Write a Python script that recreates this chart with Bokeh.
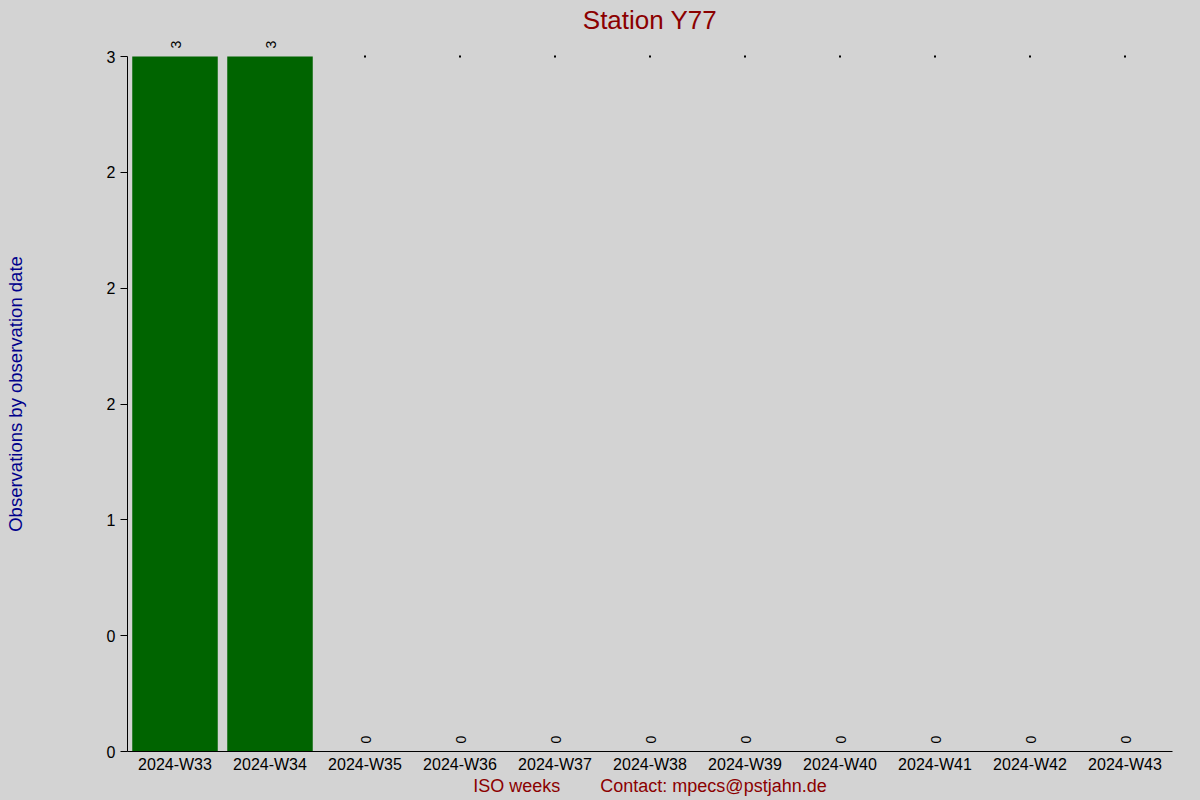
import math
from bokeh.plotting import figure
from bokeh.models import FactorRange, Range1d, FixedTicker, ColumnDataSource
from bokeh.embed import file_html
from bokeh.resources import INLINE
from bokeh.core.properties import value

# ---- data ----
weeks = ["2024-W33", "2024-W34", "2024-W35", "2024-W36", "2024-W37", "2024-W38",
         "2024-W39", "2024-W40", "2024-W41", "2024-W42", "2024-W43"]
counts = [3, 3, 0, 0, 0, 0, 0, 0, 0, 0, 0]
y_ticks = [0, 0.5, 1, 1.5, 2, 2.5, 3]
y_tick_labels = ["0", "0", "1", "2", "2", "2", "3"]
y_min = 0
y_max = 3
title_text = "Station Y77"
x_label = "ISO weeks" + "\u00a0" * 8 + "Contact: mpecs@pstjahn.de"
y_label = "Observations by observation date"

FONT = "Liberation Sans"
BG = "#d3d3d3"

# layout: axis spans 695 px for the data range, frame gets 20 px headroom for bar labels
AXIS_PX = 695
HEAD_PX = 20
y_end = y_max + (y_max - y_min) * HEAD_PX / AXIS_PX

src = ColumnDataSource(dict(week=weeks, count=counts, label=[str(c) for c in counts]))
zero_weeks = [w for w, c in zip(weeks, counts) if c == 0]
dots = ColumnDataSource(dict(week=zero_weeks, top=[y_max] * len(zero_weeks)))

p = figure(width=1200, height=800, output_backend="svg", toolbar_location=None,
           x_range=FactorRange(factors=weeks, range_padding=0),
           y_range=Range1d(y_min, y_end),
           min_border_left=127, min_border_right=28, min_border_top=36, min_border_bottom=49)
p.styles = {"background-color": BG}

p.background_fill_color = BG
p.border_fill_color = BG
p.outline_line_color = None
p.xgrid.grid_line_color = None
p.ygrid.grid_line_color = None

p.title.text = title_text
p.title.align = "center"
p.title.text_font = FONT
p.title.text_font_size = "26px"
p.title.text_font_style = "normal"
p.title.text_color = "#8b0000"
p.title.standoff = 4

p.vbar(x="week", top="count", width=0.9, source=src, fill_color="#006400", line_color=None)
p.text(x="week", y="count", text="label", source=src, angle=math.pi / 2,
       text_align="left", text_baseline="middle", y_offset=-8, x_offset=1,
       text_font=value(FONT), text_font_size="14px", text_color="black")
p.scatter(x="week", y="top", source=dots, marker="square", size=2,
          fill_color="black", line_color=None)

# y axis
ya = p.yaxis[0]
ya.ticker = FixedTicker(ticks=y_ticks)
ya.bounds = (y_min, y_max)
ya.major_label_overrides = {t: l for t, l in zip(y_ticks, y_tick_labels)}
ya.minor_tick_line_color = None
ya.major_tick_out = 7
ya.major_tick_in = 0
ya.major_label_standoff = 5
ya.major_label_text_font = FONT
ya.major_label_text_font_size = "16px"
ya.major_label_text_color = "black"
ya.axis_label = y_label
ya.axis_label_text_font = FONT
ya.axis_label_text_font_size = "18.5px"
ya.axis_label_text_font_style = "normal"
ya.axis_label_text_color = "#00008b"
ya.axis_label_standoff = 78
ya.axis_line_color = "black"

# x axis
xa = p.xaxis[0]
xa.major_tick_out = 0
xa.major_tick_in = 0
xa.minor_tick_line_color = None
xa.major_label_standoff = 4
xa.major_label_text_font = FONT
xa.major_label_text_font_size = "16px"
xa.major_label_text_color = "black"
xa.axis_label = x_label
xa.axis_label_text_font = FONT
xa.axis_label_text_font_size = "18px"
xa.axis_label_text_font_style = "normal"
xa.axis_label_text_color = "#8b0000"
xa.axis_label_standoff = 0
xa.axis_line_color = "black"

html = file_html(p, INLINE)
html = html.replace("<body>", '<body style="margin:0;overflow:hidden;background:%s">' % BG, 1)
open("out.html", "w").write(html)
